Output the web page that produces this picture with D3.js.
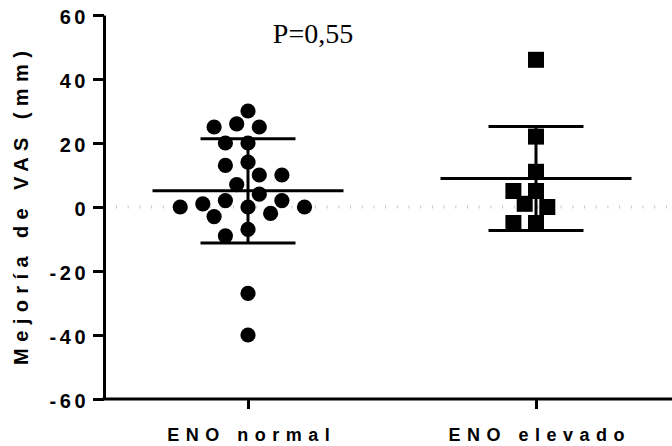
<!DOCTYPE html>
<html>
<head>
<meta charset="utf-8">
<script src="https://cdn.jsdelivr.net/npm/d3@7"></script>
<style>
  html, body { margin: 0; padding: 0; background: #fff; }
  svg { display: block; }
</style>
</head>
<body>
<svg id="chart" width="672" height="446"></svg>
<script>
// ---- data ----
const categories = ["ENO normal", "ENO elevado"];
const enoNormal = [30, 26, 25, 25, 20, 20, 14, 13, 10, 10, 7, 4, 2, 2, 1, 0, 0, 0, -2, -3, -7, -9, -27, -40];
const enoElevado = [46, 22, 5, 5, 11, 1, 0, -5, -5];
const yTicks = [-60, -40, -20, 0, 20, 40, 60];
const yDomain = [-60, 60];
const pLabel = "P=0,55";
const yTitle = "Mejoría de VAS (mm)";

// ---- layout ----
const svg = d3.select("#chart");
const W = 672, H = 446;
const axisX = 104, axisTop = 15, axisBottom = 399;
const sans = "'Liberation Sans', Arial, sans-serif";

const y = d3.scaleLinear().domain(yDomain).range([axisBottom, axisTop]);
const x = d3.scalePoint().domain(categories).range([axisX, 680]).padding(0.5);

const black = "#000";

// zero reference line (dotted)
svg.append("line")
  .attr("x1", axisX + 12).attr("x2", W)
  .attr("y1", y(0)).attr("y2", y(0))
  .attr("stroke", "#c4c4c4").attr("stroke-width", 3)
  .attr("stroke-dasharray", "1,10.7");

// beeswarm layout computed from values
function swarm(values, cx, slot, minDist) {
  const placed = [];
  return values.map(v => {
    const py = y(v);
    let px = cx;
    for (let k = 0; k < 80; k++) {
      const off = (k === 0 ? 0 : (k % 2 ? -1 : 1) * Math.ceil(k / 2)) * slot;
      const cand = cx + off;
      if (placed.every(p => Math.hypot(p.x - cand, p.y - py) >= minDist)) { px = cand; break; }
    }
    const pt = { v, x: px, y: py };
    placed.push(pt);
    return pt;
  });
}

const g1 = swarm(enoNormal, x(categories[0]), 11.3, 17);
const g2 = swarm(enoElevado, x(categories[1]), 11.3, 17);

// mean & SD
function drawStats(values, cx) {
  const m = d3.mean(values), sd = d3.deviation(values);
  const g = svg.append("g").attr("stroke", black).attr("stroke-width", 3);
  g.append("line").attr("x1", cx - 95.5).attr("x2", cx + 95.5).attr("y1", y(m)).attr("y2", y(m));
  g.append("line").attr("x1", cx).attr("x2", cx).attr("y1", y(m + sd)).attr("y2", y(m - sd));
  g.append("line").attr("x1", cx - 47.5).attr("x2", cx + 47.5).attr("y1", y(m + sd)).attr("y2", y(m + sd));
  g.append("line").attr("x1", cx - 47.5).attr("x2", cx + 47.5).attr("y1", y(m - sd)).attr("y2", y(m - sd));
}

// points
svg.append("g").selectAll("circle").data(g1).join("circle")
  .attr("cx", d => d.x).attr("cy", d => d.y).attr("r", 7.6).attr("fill", black);
const sq = 16;
svg.append("g").selectAll("rect").data(g2).join("rect")
  .attr("x", d => d.x - sq / 2).attr("y", d => d.y - sq / 2)
  .attr("width", sq).attr("height", sq).attr("fill", black);

drawStats(enoNormal, x(categories[0]));
drawStats(enoElevado, x(categories[1]));

// y axis
const yAxis = svg.append("g").attr("transform", `translate(${axisX},0)`)
  .call(d3.axisLeft(y).tickValues(yTicks).tickFormat(d => String(d))
    .tickSize(11).tickSizeOuter(0).tickPadding(4));
yAxis.select(".domain").attr("stroke", black).attr("stroke-width", 3);
yAxis.selectAll(".tick line").attr("stroke", black).attr("stroke-width", 3);
yAxis.selectAll(".tick text")
  .attr("font-family", sans)
  .attr("font-weight", "bold").attr("font-size", 20)
  .attr("letter-spacing", 3.5).attr("dy", "0.42em")
  .attr("fill", black);

// x axis
const xAxis = svg.append("g").attr("transform", `translate(0,${axisBottom})`)
  .call(d3.axisBottom(x).tickSize(10).tickSizeOuter(0).tickPadding(18));
xAxis.select(".domain").attr("stroke", black).attr("stroke-width", 3)
  .attr("d", `M${axisX - 1.5},0H${W}`);
xAxis.selectAll(".tick line").attr("stroke", black).attr("stroke-width", 3);
xAxis.selectAll(".tick text")
  .attr("font-family", sans)
  .attr("font-weight", "bold").attr("font-size", 18)
  .attr("letter-spacing", 6.5).attr("dx", 3.25).attr("dy", "0.8em")
  .attr("fill", black);

// y title
svg.append("text")
  .attr("transform", `translate(28,${(axisTop + axisBottom) / 2 + 1}) rotate(-90)`)
  .attr("text-anchor", "middle")
  .attr("font-family", sans)
  .attr("font-weight", "bold").attr("font-size", 20)
  .attr("letter-spacing", 6.4).attr("dx", 3.2)
  .attr("fill", black)
  .text(yTitle);

// p-value annotation
svg.append("text")
  .attr("x", 313).attr("y", 43)
  .attr("text-anchor", "middle")
  .attr("font-family", "'Liberation Serif', 'DejaVu Serif', serif")
  .attr("font-size", 28)
  .attr("fill", black)
  .text(pLabel);
</script>
</body>
</html>
